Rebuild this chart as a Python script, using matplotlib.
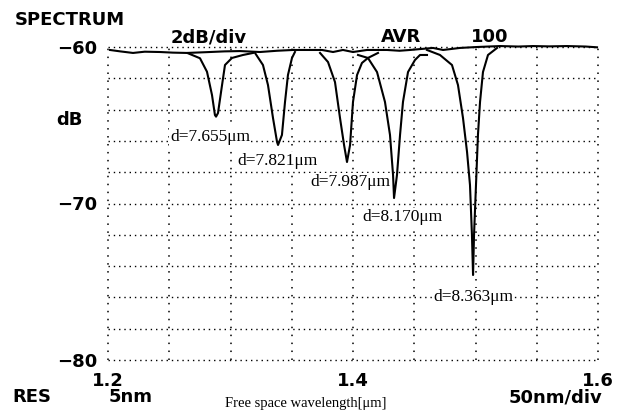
import matplotlib
matplotlib.use("Agg")
import matplotlib.pyplot as plt
import numpy as np

# baseline of the overlaid spectra (wavelength in um, level in dB)
baseline_wl = [1.2016, 1.2100, 1.2204, 1.2300, 1.2424, 1.2530, 1.2645, 1.2833, 1.2950,
               1.3078, 1.3241, 1.3380, 1.3510, 1.3673, 1.3747, 1.3837, 1.3918, 1.4000,
               1.4114, 1.4278, 1.4380, 1.4465, 1.4653, 1.4735, 1.4873, 1.5012, 1.5200,
               1.5350, 1.5469, 1.5600, 1.5747, 1.5900, 1.5992]
baseline_db = [-60.19, -60.28, -60.38, -60.30, -60.32, -60.36, -60.38, -60.32, -60.28,
               -60.26, -60.32, -60.24, -60.19, -60.19, -60.19, -60.32, -60.19, -60.32,
               -60.19, -60.19, -60.24, -60.19, -60.06, -60.19, -60.06, -60.00, -59.94,
               -59.97, -59.94, -59.96, -59.94, -59.97, -60.02]

# resonance dips, one per thickness
dip1_wl = [1.2653, 1.2751, 1.2808, 1.2849, 1.2873, 1.2882, 1.2898, 1.2931, 1.2955, 1.3012, 1.3102, 1.3184]
dip1_db = [-60.40, -60.72, -61.58, -63.07, -64.35, -64.45, -64.22, -62.43, -61.15, -60.70, -60.51, -60.38]

dip2_wl = [1.3200, 1.3265, 1.3306, 1.3347, 1.3380, 1.3388, 1.3420, 1.3445, 1.3469, 1.3502, 1.3526]
dip2_db = [-60.38, -61.15, -62.43, -64.54, -66.07, -66.26, -65.62, -63.51, -61.79, -60.70, -60.32]

dip3_wl = [1.3731, 1.3796, 1.3853, 1.3894, 1.3927, 1.3951, 1.3976, 1.4000, 1.4033, 1.4073, 1.4122, 1.4204]
dip3_db = [-60.38, -60.96, -62.24, -64.54, -66.26, -67.35, -66.26, -63.51, -61.79, -61.02, -60.70, -60.38]

dip4_wl = [1.4041, 1.4122, 1.4196, 1.4261, 1.4302, 1.4327, 1.4335, 1.4359, 1.4384, 1.4408, 1.4449, 1.4506, 1.4547, 1.4604]
dip4_db = [-60.51, -60.70, -61.60, -63.51, -65.62, -68.18, -69.65, -68.18, -65.62, -63.51, -61.60, -60.83, -60.51, -60.51]

dip5_wl = [1.4604, 1.4710, 1.4808, 1.4857, 1.4898, 1.4931, 1.4955, 1.4971, 1.4980,
           1.4988, 1.5004, 1.5020, 1.5037, 1.5061, 1.5102, 1.5176]
dip5_db = [-60.19, -60.51, -61.15, -62.43, -64.54, -66.71, -68.82, -72.01, -74.57,
           -72.01, -68.82, -65.62, -63.51, -61.60, -60.51, -60.06]

dip_labels = ["d=7.655\u03bcm", "d=7.821\u03bcm", "d=7.987\u03bcm", "d=8.170\u03bcm", "d=8.363\u03bcm"]
label_pos = [(1.2506, -65.75), (1.3053, -67.28), (1.3649, -68.63), (1.4073, -70.86), (1.4653, -75.97)]

x_ticks = [1.2, 1.4, 1.6]
x_ticklabels = ["1.2", "1.4", "1.6"]
y_ticks = [-60, -70, -80]
y_ticklabels = ["\u221260", "\u221270", "\u221280"]

W, H = 628, 412
fig = plt.figure(figsize=(W / 100, H / 100), dpi=100)
ax = fig.add_axes([108 / W, 52 / H, 490 / W, 313 / H])
ax.set_xlim(1.2, 1.6)
ax.set_ylim(-80, -60)
for s in ax.spines.values():
    s.set_visible(False)

# dotted grid, edges included
for x in np.linspace(1.2, 1.6, 9):
    ax.axvline(x, color="black", lw=1.1, ls=(0, (1, 4.2)), clip_on=False, zorder=1)
for y in np.linspace(-80, -60, 11):
    ax.axhline(y, color="black", lw=1.0, ls=(0, (1, 2.8)), clip_on=False, zorder=1)

line_kw = dict(color="black", lw=1.5, clip_on=False, zorder=3, solid_joinstyle="round")
ax.plot(baseline_wl, baseline_db, **line_kw)
for wl, db in [(dip1_wl, dip1_db), (dip2_wl, dip2_db), (dip3_wl, dip3_db),
               (dip4_wl, dip4_db), (dip5_wl, dip5_db)]:
    ax.plot(wl, db, **line_kw)

for txt, (x, y) in zip(dip_labels, label_pos):
    ax.text(x, y, txt, family="Liberation Serif", fontsize=12.5, ha="left", va="center",
            zorder=2, bbox=dict(facecolor="white", edgecolor="none", pad=0.5))

mono = dict(family="DejaVu Sans", weight="bold", fontsize=13)
ax.set_xticks(x_ticks, x_ticklabels, **mono)
ax.set_yticks(y_ticks, y_ticklabels, **mono)
ax.tick_params(axis="x", length=0, pad=9)
ax.tick_params(axis="y", length=0, pad=8)

def ftext(x, y, s, **kw):
    fig.text(x / W, 1 - y / H, s, ha="center", va="center", **kw)

ftext(70, 20, "SPECTRUM", **mono)
ftext(209, 37, "2dB/div", **mono)
ftext(401, 37, "AVR", **mono)
ftext(490, 37, "100", **mono)
ftext(69, 120, "dB", **mono)
ftext(32, 397, "RES", **mono)
ftext(131, 397, "5nm", **mono)
ftext(555, 397, "50nm/div", **mono)
ftext(306, 404, "Free space wavelength[\u03bcm]", family="Liberation Serif", fontsize=10.5)

fig.savefig("out.png", dpi=100)
